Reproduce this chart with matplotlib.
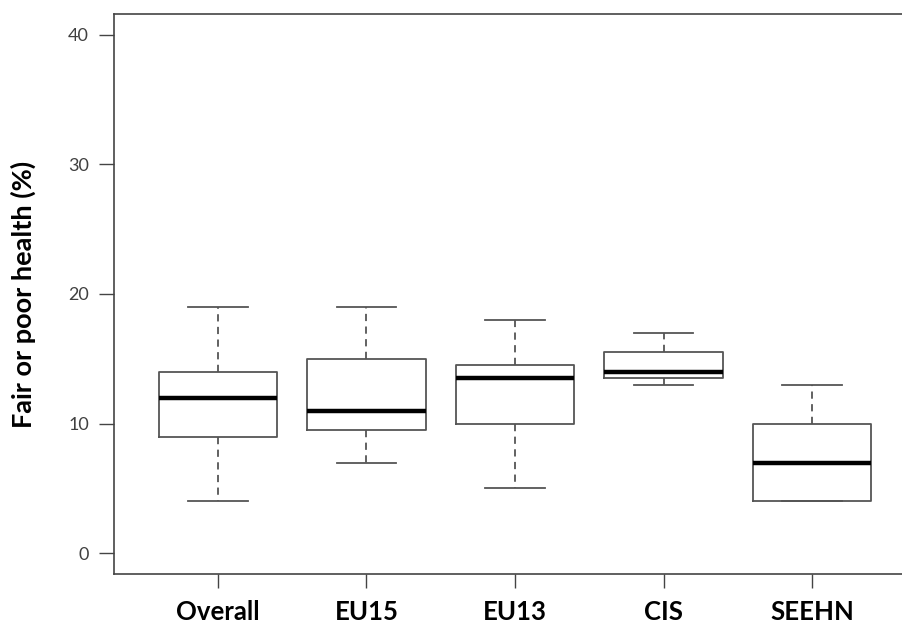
import matplotlib
matplotlib.use('Agg')
import matplotlib.pyplot as plt

# values
groups = ['Overall', 'EU15', 'EU13', 'CIS', 'SEEHN']
whisker_low = [4, 7, 5, 13, 4]
q1 = [9, 9.5, 10, 13.5, 4]
median = [12, 11, 13.5, 14, 7]
q3 = [14, 15, 14.5, 15.5, 10]
whisker_high = [19, 19, 18, 17, 13]
y_ticks = [0, 10, 20, 30, 40]

plt.rcParams['font.family'] = ['Lato', 'DejaVu Sans']

fig = plt.figure(figsize=(9.02, 6.23), dpi=100)
# axes runs off the right edge, like the cropped original
ax = fig.add_axes([114 / 902, 49 / 623, 802 / 902, 560 / 623])

stats = []
for i, name in enumerate(groups):
    stats.append({'label': name, 'whislo': whisker_low[i], 'q1': q1[i],
                  'med': median[i], 'q3': q3[i], 'whishi': whisker_high[i],
                  'fliers': []})

line_col = '#555555'
ax.bxp(stats, positions=range(1, len(groups) + 1), widths=0.8,
       showfliers=False,
       boxprops=dict(color=line_col, linewidth=1.3),
       whiskerprops=dict(color=line_col, linewidth=1.3, linestyle=(0, (4, 3))),
       capprops=dict(color=line_col, linewidth=1.3),
       medianprops=dict(color='black', linewidth=3.2, solid_capstyle='butt'),
       capwidths=0.4)

ax.set_xlim(0.3, 5.7)
ax.set_ylim(-1.6, 41.6)
ax.set_yticks(y_ticks)
ax.set_yticklabels([str(t) for t in y_ticks], fontsize=13, color='#404040')
ax.set_xticks(range(1, len(groups) + 1))
ax.set_xticklabels(groups, fontsize=18.5, fontweight='bold', color='black')

for side in ['left', 'bottom', 'top', 'right']:
    ax.spines[side].set_color('#444444')
    ax.spines[side].set_linewidth(1.2)

ax.tick_params(axis='y', length=11, width=1, color='#444444', pad=7)
ax.tick_params(axis='x', length=10, width=1, color='#444444', pad=9)

ax.set_ylabel('Fair or poor health (%)', fontsize=19.5, fontweight='bold')
ax.yaxis.set_label_coords(-78 / 802, 0.5)

fig.savefig('out.png', dpi=100)
